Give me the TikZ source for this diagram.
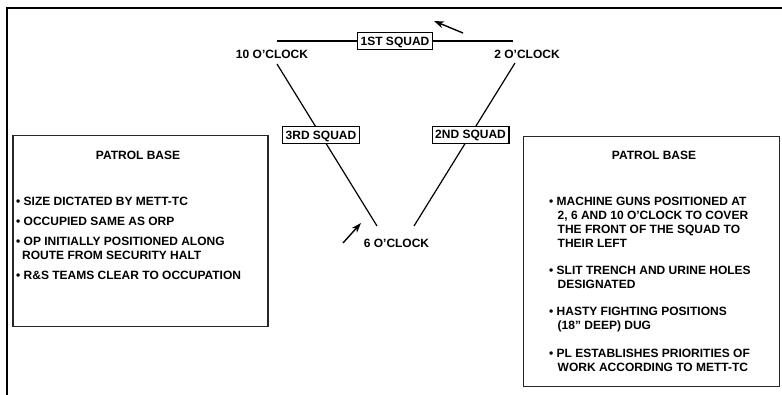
\documentclass[tikz,border=0pt]{standalone}
\usepackage{fontspec}
\setmainfont{Liberation Sans}
\usetikzlibrary{arrows.meta}

\begin{document}
\begin{tikzpicture}[
        x=1pt, y=-1pt,
        rotulo/.style={font=\bfseries\fontsize{12}{14}\selectfont, inner sep=0pt},
        esquadra/.style={rotulo, draw=black, fill=white, line width=1.2pt, inner xsep=3pt,
            text height=8.6pt, text depth=0.4pt, minimum height=17pt},
        quadro/.style={draw=black!85, line width=1.2pt},
        lista/.style={rotulo, align=left, anchor=north west},
        linha/.style={line width=1.2pt},
        seta/.style={line width=1.4pt, -{Stealth[length=10pt, width=7pt]}},
        moldura/.style={line width=2.2pt},
    ]
    \useasboundingbox (0,0) rectangle (782,395);
    \draw[moldura] (7,395) -- (7,8) -- (782,8);

    \node[rotulo] (dez) at (272,54) {10 O’CLOCK};
    \node[rotulo] (dois) at (527,54) {2 O’CLOCK};
    \node[rotulo] (seis) at (396.5,243) {6 O’CLOCK};

    \coordinate (a1) at (277,41);
    \coordinate (a2) at (513,41);
    \coordinate (b1) at (277,64);
    \coordinate (b2) at (377,226);
    \coordinate (c1) at (515,63);
    \coordinate (c2) at (414,226);

    \draw[linha] (a1) -- node[esquadra] (sq1) {1ST SQUAD} (a2);
    \draw[linha] (b1) -- node[esquadra, pos=0.44] (sq3) {3RD SQUAD} (b2);
    \draw[linha] (c1) -- node[esquadra, pos=0.44] (sq2) {2ND SQUAD} (c2);

    \coordinate (s1) at (463,33);
    \coordinate (p1) at (434,21);
    \coordinate (s2) at (343,243);
    \coordinate (p2) at (361,223);
    \draw[seta] (s1) -- (p1);
    \draw[seta] (s2) -- (p2);

    \node[quadro, minimum width=255pt, minimum height=191pt] (qesq) at (140.4,231.3) {};
    \node[quadro, minimum width=256pt, minimum height=250pt] (qdir) at (651.2,261.2) {};

    \node[rotulo] (tesq) at (138,155) {PATROL BASE};
    \node[rotulo] (tdir) at (654,155) {PATROL BASE};

    \node[lista] (lesq) at (16,196.7) {• SIZE DICTATED BY METT-TC\\[6pt]
        • OCCUPIED SAME AS ORP\\[6pt]
        • OP INITIALLY POSITIONED ALONG\\
        \hspace*{6pt}ROUTE FROM SECURITY HALT\\[6pt]
        • R\&S TEAMS CLEAR TO OCCUPATION};

    \node[lista] (ldir) at (549,196.7) {• MACHINE GUNS POSITIONED AT\\
        \hspace*{8.5pt}2, 6 AND 10 O’CLOCK TO COVER\\
        \hspace*{8.5pt}THE FRONT OF THE SQUAD TO\\
        \hspace*{8.5pt}THEIR LEFT\\[13.3pt]
        • SLIT TRENCH AND URINE HOLES\\
        \hspace*{8.5pt}DESIGNATED\\[13.3pt]
        • HASTY FIGHTING POSITIONS\\
        \hspace*{8.5pt}(18” DEEP) DUG\\[13.3pt]
        • PL ESTABLISHES PRIORITIES OF\\
        \hspace*{8.5pt}WORK ACCORDING TO METT-TC};
\end{tikzpicture}
\end{document}
